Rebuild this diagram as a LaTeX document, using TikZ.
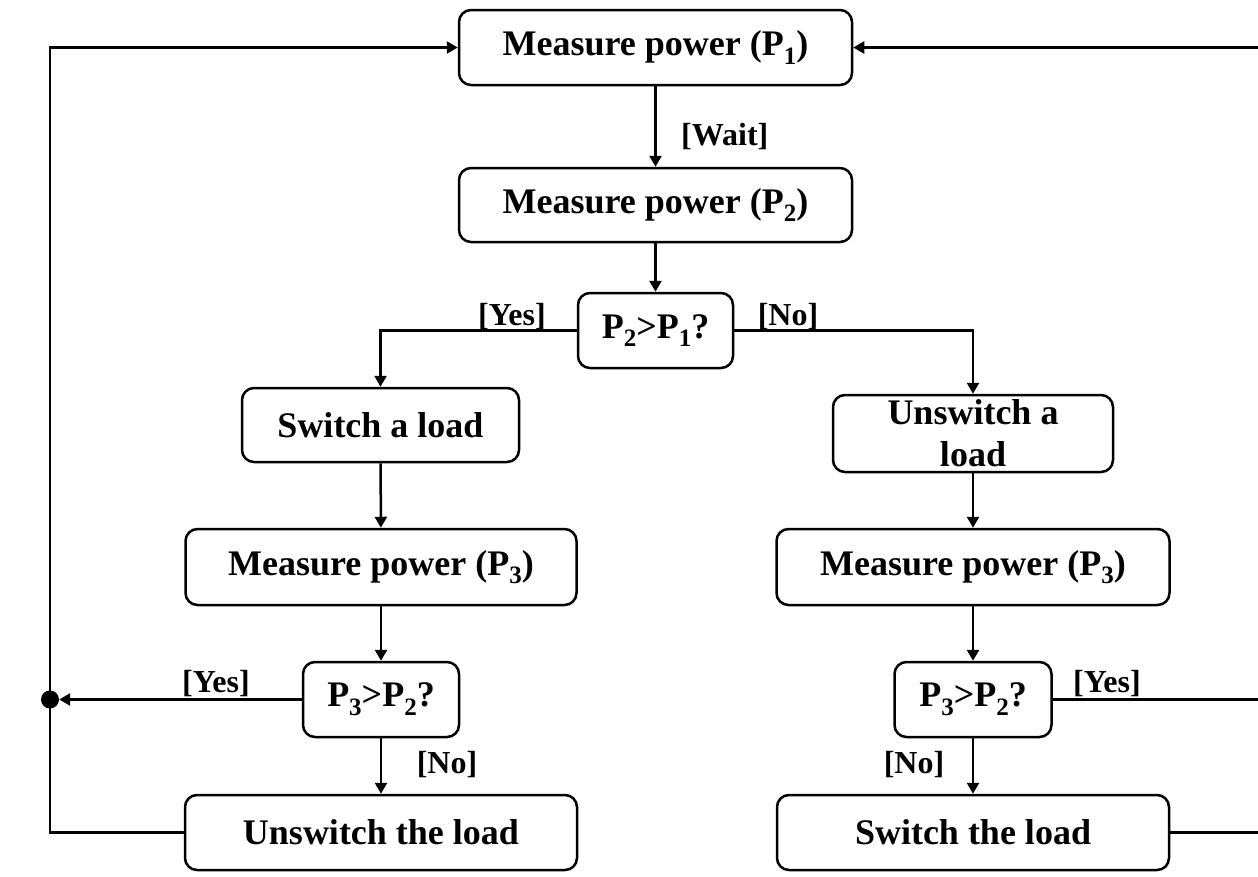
\documentclass[tikz,border=0pt]{standalone}
\usepackage{fontspec}
\setmainfont{Liberation Serif}
\usetikzlibrary{arrows.meta}
\newcommand{\sbs}[1]{\raisebox{-0.24em}{\fontsize{25}{25}\selectfont #1}}
\tikzset{
  box/.style={draw, line width=2.5pt, rounded corners=12pt, fill=white, inner sep=0pt,
    align=center, font=\fontsize{36}{42}\selectfont\bfseries},
  lbl/.style={inner sep=0pt, anchor=base, font=\fontsize{32}{36}\selectfont\bfseries},
  conn/.style={line width=2.5pt},
  arr/.style={conn, -{Triangle[length=11pt,width=12pt]}},
  junction/.style={circle, fill=black, inner sep=0pt, minimum size=18pt}
}
\begin{document}
\begin{tikzpicture}[x=1pt,y=-1pt]
\useasboundingbox (0,0) rectangle (1258,876);
% boxes
\node[box, minimum width=393pt, minimum height=75pt] (m1) at (655.5,47.5) {Measure power (P\sbs{1})};
\node[box, minimum width=393pt, minimum height=74pt] (m2) at (655.5,205) {Measure power (P\sbs{2})};
\node[box, minimum width=155pt, minimum height=75pt] (d1) at (655.5,330.5) {P\sbs{2}>P\sbs{1}?};
\node[box, minimum width=277pt, minimum height=74pt] (sa) at (380.5,425) {Switch a load};
\node[box, minimum width=280pt, minimum height=77pt] (ua) at (973,433.5) {Unswitch a\\load};
\node[box, minimum width=391pt, minimum height=76pt] (m3l) at (381,567) {Measure power (P\sbs{3})};
\node[box, minimum width=393pt, minimum height=76pt] (m3r) at (973,567) {Measure power (P\sbs{3})};
\node[box, minimum width=156pt, minimum height=75pt] (d2l) at (381,699.5) {P\sbs{3}>P\sbs{2}?};
\node[box, minimum width=157pt, minimum height=75pt] (d2r) at (973,699.5) {P\sbs{3}>P\sbs{2}?};
\node[box, minimum width=392pt, minimum height=75pt] (ul) at (381,832.5) {Unswitch the load};
\node[box, minimum width=392pt, minimum height=75pt] (sr) at (973,832.5) {Switch the load};
% junction and free ends
\node[junction] (dot) at (50,699.5) {};
\coordinate (tl) at (50,47.5);
\coordinate (tr) at (1264,47.5);
\coordinate (r2) at (1264,699.5);
\coordinate (r3) at (1264,832.5);
% connectors
\draw[arr] (m1) -- (m2);
\draw[arr] (m2) -- (d1);
\draw[arr] (d1.west) -| (sa.north);
\draw[arr] (d1.east) -| (ua.north);
\draw[arr] (sa) -- (m3l);
\draw[arr] (ua) -- (m3r);
\draw[arr] (m3l) -- (d2l);
\draw[arr] (m3r) -- (d2r);
\draw[arr] (d2l) -- (ul);
\draw[arr] (d2r) -- (sr);
\draw[arr] (d2l.west) -- (dot);
\draw[arr] (ul.west) -| (tl) -- (m1.west);
\draw[arr] (tr) -- (m1.east);
\draw[conn] (d2r.east) -- (r2);
\draw[conn] (sr.east) -- (r3);
% labels
\node[lbl, anchor=base west] (lw) at (681,145) {[Wait]};
\node[lbl] (ly1) at (512,325) {[Yes]};
\node[lbl] (ln1) at (788,325) {[No]};
\node[lbl] (ly2) at (216,692) {[Yes]};
\node[lbl] (ln2) at (447,773) {[No]};
\node[lbl] (ly3) at (1107,692) {[Yes]};
\node[lbl] (ln3) at (914,773) {[No]};
\end{tikzpicture}
\end{document}
